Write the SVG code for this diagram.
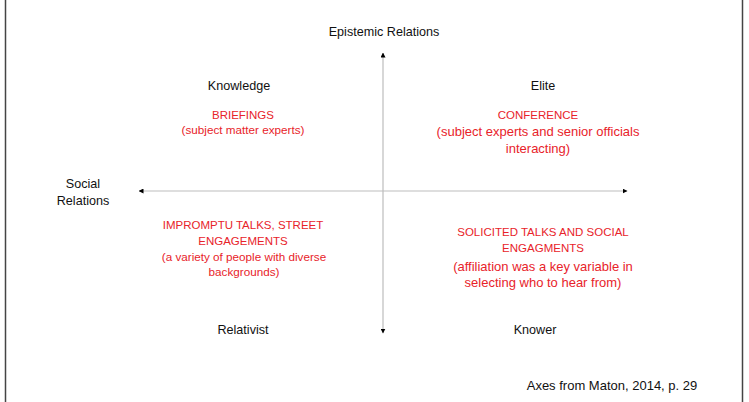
<svg xmlns="http://www.w3.org/2000/svg" width="749" height="402" viewBox="0 0 749 402">
<defs>
<style>
text{font-family:"Liberation Sans",Arial,sans-serif;text-anchor:middle}
.lbl{font-size:12.6px;fill:#111}
.hd{font-size:11.5px;fill:#e8232a}
.par{font-size:13px;fill:#e8232a}
.sub{font-size:11.7px;fill:#e8232a}
.axis{stroke:#bdbdbd;stroke-width:1.2;fill:none}
.frame{stroke:#444;stroke-width:1.5}
</style>
<marker id="ah" viewBox="0 0 10 10" refX="9" refY="5" markerWidth="5" markerHeight="5" orient="auto-start-reverse" markerUnits="userSpaceOnUse">
<path d="M0,0 L10,5 L0,10 z" fill="#000"/>
</marker>
</defs>
<rect width="749" height="402" fill="#fff"/>
<line class="frame" x1="5.5" y1="0" x2="5.5" y2="402"/>
<line class="frame" x1="742.5" y1="0" x2="742.5" y2="402"/>
<g id="connectors">
<line class="axis" x1="383" y1="53" x2="383" y2="333" marker-start="url(#ah)" marker-end="url(#ah)"/>
<line class="axis" x1="139" y1="191" x2="627" y2="191" marker-start="url(#ah)" marker-end="url(#ah)"/>
</g>
<g id="epistemic"><text class="lbl" x="384" y="36">Epistemic Relations</text></g>
<g id="social"><text class="lbl" x="83" y="188">Social</text><text class="lbl" x="83" y="205">Relations</text></g>
<g id="knowledge"><text class="lbl" x="239" y="90">Knowledge</text></g>
<g id="elite"><text class="lbl" x="543" y="90">Elite</text></g>
<g id="relativist"><text class="lbl" x="243" y="334">Relativist</text></g>
<g id="knower"><text class="lbl" x="535" y="334">Knower</text></g>
<g id="briefings">
<text class="hd" x="243" y="119">BRIEFINGS</text>
<text class="sub" x="243" y="134">(subject matter experts)</text>
</g>
<g id="conference">
<text class="hd" x="538" y="119">CONFERENCE</text>
<text class="par" x="538" y="136">(subject experts and senior officials</text>
<text class="par" x="538" y="153">interacting)</text>
</g>
<g id="impromptu">
<text class="hd" x="243" y="229">IMPROMPTU TALKS, STREET</text>
<text class="hd" x="243" y="245">ENGAGEMENTS</text>
<text class="sub" x="244" y="261">(a variety of people with diverse</text>
<text class="sub" x="244" y="276">backgrounds)</text>
</g>
<g id="solicited">
<text class="hd" x="543" y="236">SOLICITED TALKS AND SOCIAL</text>
<text class="hd" x="543" y="252">ENGAGMENTS</text>
<text class="par" x="543" y="271">(affiliation was a key variable in</text>
<text class="par" x="543" y="287">selecting who to hear from)</text>
</g>
<g id="source"><text class="lbl" x="612" y="390" style="font-size:13px">Axes from Maton, 2014, p. 29</text></g>
</svg>
